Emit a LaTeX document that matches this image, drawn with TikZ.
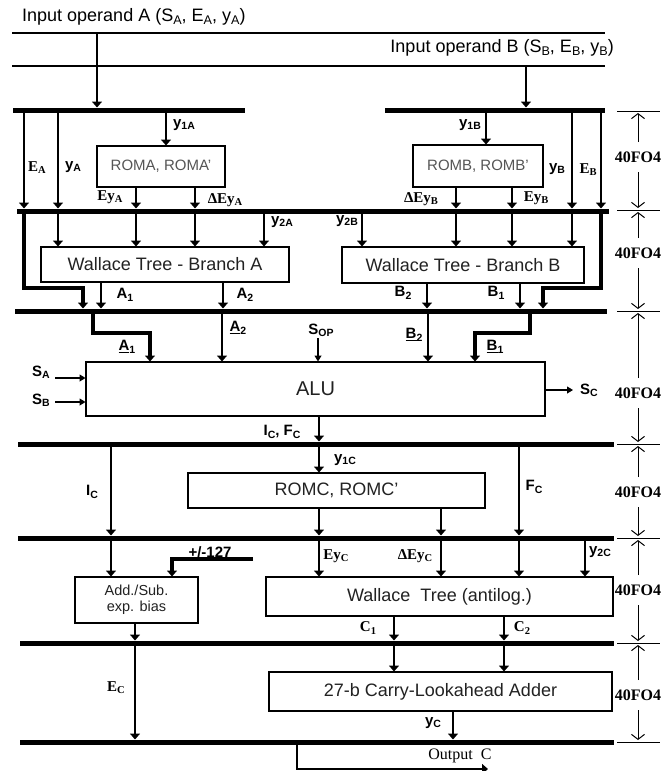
\documentclass[tikz,border=0pt]{standalone}
\usepackage{fontspec}
\setmainfont{Liberation Serif}
\setsansfont{Liberation Sans}
\usepackage{graphicx}
\usetikzlibrary{arrows.meta}
\newcommand\sbs[1]{\raisebox{-0.3ex}{\scalebox{0.7}{#1}}}
\definecolor{romgray}{HTML}{555555}
\definecolor{txt}{HTML}{222222}
\begin{document}
\begin{tikzpicture}[x=1pt,y=-1pt,
  bus/.style={line width=5pt},
  thinl/.style={line width=1.4pt},
  arr/.style={line width=2pt,-{Triangle[length=6pt,width=10pt]}},
  larr/.style={line width=3.5pt,line join=miter,-{Triangle[length=6pt,width=10pt]}},
  sarr/.style={line width=1.1pt,-{Triangle[length=6pt,width=7pt]}},
  box/.style={draw,line width=1.5pt,inner sep=0pt,text=txt,font=\sffamily\fontsize{18}{21}\selectfont},
  sl/.style={inner sep=0pt,font=\sffamily\bfseries\fontsize{15}{15}\selectfont},
  tl/.style={inner sep=0pt,font=\rmfamily\bfseries\fontsize{15}{15}\selectfont},
  dl/.style={inner sep=0pt,font=\rmfamily\bfseries\fontsize{16}{16}\selectfont},
  dimt/.style={line width=1pt},
  dima/.style={line width=1pt,-{Straight Barb[length=5pt,width=13pt]}}]
\useasboundingbox (0,0) rectangle (669,771);
\fill[white] (0,0) rectangle (669,771);

% ---------- inputs ----------
\node[anchor=west,inner sep=0pt,font=\sffamily\fontsize{18}{20}\selectfont] (inA) at (22,17) {Input operand A (S\sbs{A}, E\sbs{A}, y\sbs{A})};
\draw[thinl] (12,33) -- (605,33);
\node[anchor=east,inner sep=0pt,font=\sffamily\fontsize{18}{20}\selectfont] (inB) at (614,48) {Input operand B (S\sbs{B}, E\sbs{B}, y\sbs{B})};
\draw[thinl] (12,66) -- (605,66);
\draw[arr] (97,33) -- (97,107.5);
\draw[arr] (526,66) -- (526,107.5);

% ---------- buses ----------
\draw[bus] (13,110) -- (245,110);
\draw[bus] (385,110) -- (605,110);
\draw[bus] (17,211) -- (609,211);
\draw[bus] (15,311) -- (607,311);
\draw[bus] (18,444) -- (614,444);
\draw[bus] (18,538) -- (614,538);
\draw[bus] (20,643) -- (614,643);
\draw[bus] (20,742) -- (614,742);

% ---------- boxes ----------
\node[box,minimum width=128pt,minimum height=41pt,text=romgray,font=\sffamily\fontsize{15}{18}\selectfont] (roma) at (161,166.5) {ROMA, ROMA'};
\node[box,minimum width=130pt,minimum height=42pt,text=romgray,font=\sffamily\fontsize{15}{18}\selectfont] (romb) at (478,166) {ROMB, ROMB'};
\node[box,minimum width=248pt,minimum height=35pt] (wta) at (165,264.5) {Wallace Tree - Branch A};
\node[box,minimum width=242pt,minimum height=36pt] (wtb) at (463,265) {Wallace Tree - Branch B};
\node[box,minimum width=459pt,minimum height=54pt,font=\sffamily\fontsize{20}{22}\selectfont] (alu) at (315.5,389) {ALU};
\node[box,minimum width=297pt,minimum height=35pt] (romc) at (336.5,490.5) {ROMC, ROMC'};
\node[box,minimum width=123pt,minimum height=46pt,align=center,font=\sffamily\fontsize{14.5}{16}\selectfont] (addsub) at (136.5,600) {Add./Sub.\\exp. bias};
\node[box,minimum width=347pt,minimum height=39pt] (wtc) at (439.5,596.5) {Wallace~ Tree (antilog.)};
\node[box,minimum width=343pt,minimum height=39pt] (cla) at (440.5,691.5) {27-b Carry-Lookahead Adder};

% ---------- row 1 ----------
\draw[arr] (24,110) -- (24,208.5);
\draw[arr] (58,110) -- (58,208.5);
\draw[arr] (166,110) -- (166,145.5);
\draw[arr] (136,187) -- (136,208.5);
\draw[arr] (195,187) -- (195,208.5);
\draw[arr] (486,110) -- (486,144.5);
\draw[arr] (456,187) -- (456,208.5);
\draw[arr] (512,187) -- (512,208.5);
\draw[arr] (572,110) -- (572,208.5);
\draw[arr] (601,110) -- (601,208.5);

% ---------- row 2 ----------
\foreach \xx in {58,136,195,264} \draw[arr] (\xx,211) -- (\xx,246.5);
\foreach \xx in {362,456,512,572} \draw[arr] (\xx,211) -- (\xx,246.5);
\draw[larr] (24,211) -- (24,288) -- (83,288) -- (83,308.5);
\draw[arr] (101,282) -- (101,308.5);
\draw[arr] (223,282) -- (223,308.5);
\draw[arr] (427,283) -- (427,308.5);
\draw[arr] (520,283) -- (520,308.5);
\draw[larr] (601,211) -- (601,288) -- (543,288) -- (543,308.5);

% ---------- row 3 ----------
\draw[larr] (93,311) -- (93,333) -- (150,333) -- (150,361.5);
\draw[arr] (222,311) -- (222,361.5);
\draw[sarr] (318,338) -- (318,361.5);
\draw[arr] (428,311) -- (428,361.5);
\draw[larr] (530,311) -- (530,333) -- (475,333) -- (475,361.5);
\draw[sarr] (55,378) -- (85.5,378);
\draw[sarr] (55,402) -- (85.5,402);
\draw[sarr] (545,390) -- (573,390);
\draw[arr] (319,416) -- (319,441.5);

% ---------- row 4 ----------
\draw[arr] (111,444) -- (111,535.5);
\draw[arr] (319,444) -- (319,472.5);
\draw[arr] (319,508) -- (319,535.5);
\draw[arr] (441,508) -- (441,535.5);
\draw[arr] (519,444) -- (519,535.5);

% ---------- row 5 ----------
\draw[arr] (111,538) -- (111,576.5);
\draw[larr] (253,559) -- (172,559) -- (172,576.5);
\draw[arr] (319,538) -- (319,576.5);
\draw[arr] (441,538) -- (441,576.5);
\draw[arr] (519,538) -- (519,576.5);
\draw[arr] (585,538) -- (585,576.5);

% ---------- row 6 ----------
\draw[arr] (135,623) -- (135,640.5);
\draw[arr] (394,616) -- (394,640.5);
\draw[arr] (504,616) -- (504,640.5);
\draw[arr] (394,643) -- (394,671.5);
\draw[arr] (504,643) -- (504,671.5);
\draw[arr] (135,643) -- (135,739.5);
\draw[arr] (453,711) -- (453,739.5);
\draw[arr] (297,742) -- (297,769) -- (488,769);

% ---------- labels ----------
\node[tl] (lEA) at (37,168) {E\sbs{A}};
\node[sl] (lyA) at (73,167) {y\sbs{A}};
\node[sl] (ly1A) at (184,125) {y\sbs{1A}};
\node[tl] (lEyA) at (110,197) {Ey\sbs{A}};
\node[tl] (lDEyA) at (225,200) {ΔEy\sbs{A}};
\node[sl] (ly1B) at (470,125) {y\sbs{1B}};
\node[tl] (lDEyB) at (421,199) {ΔEy\sbs{B}};
\node[tl] (lEyB) at (536,198) {Ey\sbs{B}};
\node[sl] (lyB) at (557,169) {y\sbs{B}};
\node[tl] (lEB) at (588,170) {E\sbs{B}};
\node[sl] (ly2A) at (282,222) {y\sbs{2A}};
\node[sl] (ly2B) at (347,221) {y\sbs{2B}};
\node[sl] (lA1) at (125,295) {A\sbs{1}};
\node[sl] (lA2) at (245,295) {A\sbs{2}};
\node[sl] (lB2) at (403,293) {B\sbs{2}};
\node[sl] (lB1) at (496,293) {B\sbs{1}};
\node[sl] (luA1) at (127,347) {\underline{A}\sbs{1}};
\node[sl] (luA2) at (238,328) {\underline{A}\sbs{2}};
\node[sl] (lSop) at (321,330) {S\sbs{OP}};
\node[sl] (luB2) at (414,335) {\underline{B}\sbs{2}};
\node[sl] (luB1) at (495,347) {\underline{B}\sbs{1}};
\node[sl] (lSA) at (41,372) {S\sbs{A}};
\node[sl] (lSB) at (41,400) {S\sbs{B}};
\node[sl] (lSC) at (589,390) {S\sbs{C}};
\node[sl] (lICFC) at (282,432) {I\sbs{C}, F\sbs{C}};
\node[sl] (lIC) at (92,492) {I\sbs{C}};
\node[sl] (ly1C) at (345,460) {y\sbs{1C}};
\node[sl] (lFC) at (534,487) {F\sbs{C}};
\node[sl] (l127) at (210,552) {+/-127};
\node[tl] (lEyC) at (336,556) {Ey\sbs{C}};
\node[tl] (lDEyC) at (415,556) {ΔEy\sbs{C}};
\node[sl] (ly2C) at (600,552) {y\sbs{2C}};
\node[tl] (lEC) at (116,688) {E\sbs{C}};
\node[tl] (lC1) at (368,628) {C\sbs{1}};
\node[tl] (lC2) at (522,628) {C\sbs{2}};
\node[sl] (lyC) at (433,723) {y\sbs{C}};
\node[inner sep=0pt,font=\rmfamily\fontsize{16}{16}\selectfont] (lout) at (460,756) {Output~~C};

% ---------- dimensions ----------
\foreach \yy in {111,210,311,444,538,643,742} \draw[dimt] (617,\yy) -- (660,\yy);
\foreach \a/\m/\b in {111/157/210,210/253/311,311/393/444,444/492/538,538/590/643,643/695/742}{
  \node[dl] (d\m) at (638,\m) {40FO4};
  \draw[dima] (638,\m-15) -- (638,\a+2);
  \draw[dima] (638,\m+15) -- (638,\b-2);
}
\end{tikzpicture}
\end{document}
